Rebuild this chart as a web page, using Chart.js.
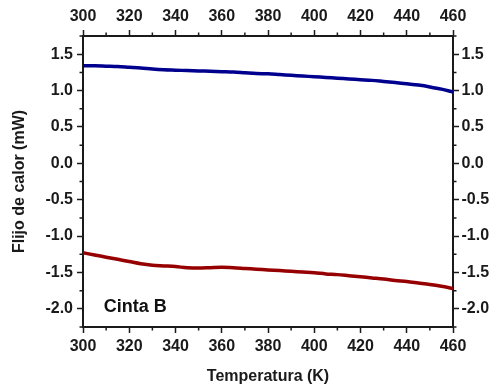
<!DOCTYPE html>
<html>
<head>
<meta charset="utf-8">
<script src="https://cdn.jsdelivr.net/npm/chart.js@4/dist/chart.umd.min.js"></script>
<style>
  html, body { margin: 0; padding: 0; background: #fff; }
  #wrap { width: 493px; height: 389px; }
</style>
</head>
<body>
<div id="wrap"><canvas id="c" width="493" height="389"></canvas></div>
<script>
// Temperature (K)
const temperatura = [300, 305, 310, 315, 320, 325, 330, 335, 340, 345, 350, 355, 360, 365, 370, 375, 380,
  385, 390, 395, 400, 405, 410, 415, 420, 425, 430, 435, 440, 445, 450, 455, 460];

// Heat flow (mW), upper trace
const flujoSuperior = [1.34, 1.34, 1.335, 1.33, 1.32, 1.31, 1.295, 1.285, 1.28, 1.275, 1.27, 1.265, 1.26,
  1.255, 1.245, 1.235, 1.23, 1.22, 1.21, 1.20, 1.19, 1.18, 1.17, 1.16, 1.15, 1.14, 1.125, 1.11, 1.095,
  1.075, 1.05, 1.02, 0.98];

// Heat flow (mW), lower trace
const flujoInferior = [-1.23, -1.26, -1.29, -1.32, -1.35, -1.38, -1.40, -1.41, -1.42, -1.435, -1.44, -1.435,
  -1.43, -1.435, -1.445, -1.455, -1.465, -1.475, -1.485, -1.495, -1.505, -1.52, -1.53, -1.545, -1.56,
  -1.575, -1.59, -1.61, -1.625, -1.645, -1.665, -1.69, -1.72];

// Axis ticks
const xTicks = [300, 320, 340, 360, 380, 400, 420, 440, 460];
const xMinorTicks = [310, 330, 350, 370, 390, 410, 430, 450];
const yTicks = [-2.0, -1.5, -1.0, -0.5, 0.0, 0.5, 1.0, 1.5];
const yMinorTicks = [-2.25, -1.75, -1.25, -0.75, -0.25, 0.25, 0.75, 1.25, 1.75];

const etiqueta = 'Cinta B';
const tituloX = 'Temperatura (K)';
const tituloY = 'Flijo de calor (mW)';

const INK = '#1a1a1a';
const FAMILY = '"Liberation Sans", Arial, Helvetica, sans-serif';
const tickFont = { family: FAMILY, size: 16, weight: 'bold' };

const toPoints = (ys) => temperatura.map((t, i) => ({ x: t, y: ys[i] }));

function axisCommon(values, fmt, pad) {
  return {
    type: 'linear',
    grid: { drawOnChartArea: false, drawTicks: true, tickLength: 6, tickColor: INK, tickWidth: 1.5 },
    border: { display: true, color: INK, width: 2 },
    afterBuildTicks: (s) => { s.ticks = values.map(v => ({ value: v })); },
    ticks: { font: tickFont, color: INK, autoSkip: false, maxRotation: 0, padding: pad, callback: fmt }
  };
}

const fmtX = (v) => String(Math.round(v));
const fmtY = (v) => Number(v).toFixed(1);

// Short minor tick marks drawn outward on all four axes
const minorTicks = {
  id: 'minorTicks',
  afterDraw(chart) {
    const { ctx, chartArea: a, scales } = chart;
    ctx.save();
    ctx.strokeStyle = INK;
    ctx.lineWidth = 1.5;
    ctx.beginPath();
    xMinorTicks.forEach(v => {
      const px = scales.x.getPixelForValue(v);
      ctx.moveTo(px, a.bottom); ctx.lineTo(px, a.bottom + 3.5);
      ctx.moveTo(px, a.top); ctx.lineTo(px, a.top - 3.5);
    });
    yMinorTicks.forEach(v => {
      const py = scales.y.getPixelForValue(v);
      ctx.moveTo(a.left, py); ctx.lineTo(a.left - 3.5, py);
      ctx.moveTo(a.right, py); ctx.lineTo(a.right + 3.5, py);
    });
    ctx.stroke();
    ctx.restore();
  }
};

// Sample label inside the plot
const sampleLabel = {
  id: 'sampleLabel',
  afterDatasetsDraw(chart) {
    const { ctx, scales } = chart;
    ctx.save();
    ctx.font = 'bold 18px ' + FAMILY;
    ctx.fillStyle = '#111';
    ctx.textAlign = 'left';
    ctx.textBaseline = 'middle';
    ctx.fillText(etiqueta, scales.x.getPixelForValue(309), scales.y.getPixelForValue(-1.97));
    ctx.restore();
  }
};

new Chart(document.getElementById('c'), {
  type: 'line',
  data: {
    datasets: [
      { data: toPoints(flujoSuperior), borderColor: '#00008f', borderWidth: 3.5, pointRadius: 0,
        tension: 0.4, cubicInterpolationMode: 'monotone', fill: false },
      { data: toPoints(flujoInferior), borderColor: '#960000', borderWidth: 3.5, pointRadius: 0,
        tension: 0.4, cubicInterpolationMode: 'monotone', fill: false }
    ]
  },
  options: {
    responsive: false,
    animation: false,
    layout: { padding: 0 },
    plugins: { legend: { display: false }, tooltip: { enabled: false } },
    scales: {
      x: Object.assign(axisCommon(xTicks, fmtX, 4), {
        position: 'bottom', min: 300, max: 460,
        afterFit: (s) => { s.height = 62; },
        title: { display: true, text: tituloX, color: INK,
          font: { family: FAMILY, size: 16, weight: 'bold' }, padding: { top: 0, bottom: 3 } }
      }),
      x2: Object.assign(axisCommon(xTicks, fmtX, 4), {
        position: 'top', min: 300, max: 460,
        afterFit: (s) => { s.height = 36; }
      }),
      y: Object.assign(axisCommon(yTicks, fmtY, 4), {
        position: 'left', min: -2.25, max: 1.75,
        afterFit: (s) => { s.width = 83; },
        title: { display: true, text: tituloY, color: INK,
          font: { family: FAMILY, size: 16, weight: 'bold' }, padding: { top: 10, bottom: 0 } }
      }),
      y2: Object.assign(axisCommon(yTicks, fmtY, 2.5), {
        position: 'right', min: -2.25, max: 1.75,
        afterFit: (s) => { s.width = 40; }
      })
    }
  },
  plugins: [minorTicks, sampleLabel]
});
</script>
</body>
</html>
